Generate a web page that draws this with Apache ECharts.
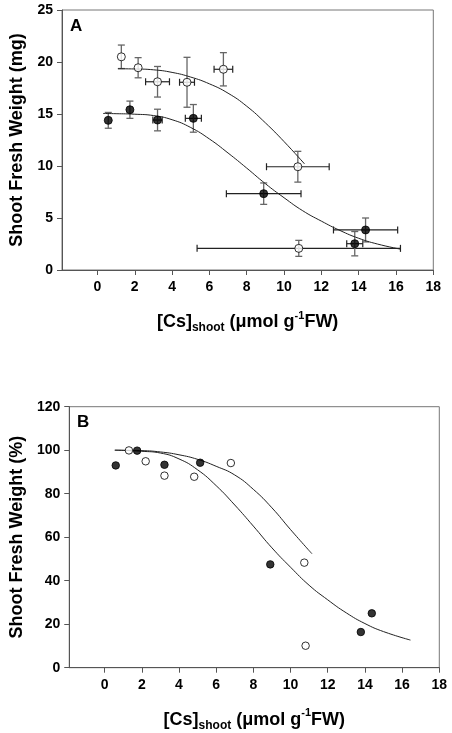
<!DOCTYPE html>
<html>
<head>
<meta charset="utf-8">
<script src="https://cdn.jsdelivr.net/npm/echarts@6/dist/echarts.min.js"></script>
<style>
html,body{margin:0;padding:0;background:#fff;}
#c{width:452px;height:733px;}
</style>
</head>
<body>
<div id="c"></div>
<script>
// ---------- Panel A data (absolute weight, mg) ----------
const openA_x    = [1.28, 2.18, 3.22, 4.80, 6.75, 10.74, 10.79];
const openA_y    = [20.5, 19.45, 18.1, 18.05, 19.3, 9.93, 2.08];
const openA_xErr = [0, 0, 0.64, 0.40, 0.50, 1.68, 5.45];
const openA_yErr = [1.13, 0.97, 1.47, 2.4, 1.6, 1.48, 0.77];

const filledA_x    = [0.58, 1.74, 3.22, 5.14, 8.91, 13.79, 14.37];
const filledA_y    = [14.39, 15.41, 14.42, 14.58, 7.34, 2.53, 3.85];
const filledA_xErr = [0, 0, 0.25, 0.43, 2.0, 0.43, 1.72];
const filledA_yErr = [0.76, 0.83, 1.04, 1.33, 1.03, 1.17, 1.15];

const fitOpenA_x = [1.1, 2, 3, 4, 5, 6, 7, 8, 9, 10, 11.1];
const fitOpenA_y = [19.35, 19.33, 19.25, 19.0, 18.55, 17.9, 17.0, 15.75, 14.15, 12.35, 10.2];
const fitFilledA_x = [0.3, 1, 2, 3, 4, 5, 6, 7, 8, 9, 10, 11, 12, 13, 14, 15, 16.25];
const fitFilledA_y = [15.05, 15.03, 14.98, 14.85, 14.45, 13.7, 12.6, 11.25, 9.8, 8.3, 6.95, 5.7, 4.7, 3.8, 3.05, 2.5, 2.0];

// ---------- Panel B data (% of control) ----------
const openB_x = [1.31, 2.21, 3.22, 4.82, 6.79, 10.74, 10.81];
const openB_y = [99.9, 94.9, 88.3, 87.8, 94.1, 48.3, 10.1];
const filledB_x = [0.60, 1.75, 3.22, 5.14, 8.91, 13.78, 14.37];
const filledB_y = [93.0, 99.8, 93.3, 94.25, 47.5, 16.4, 25.0];

const fitOpenB_x = [0.55, 2, 3, 4, 5, 6, 7, 8, 9, 10, 11.15];
const fitOpenB_y = [100, 99.8, 99.2, 97.9, 95.8, 92.6, 88.6, 82.0, 73.5, 63.5, 52.4];
const fitFilledB_x = [0.55, 1, 2, 3, 4, 5, 6, 7, 8, 9, 10, 11, 12, 13, 14, 15, 16.45];
const fitFilledB_y = [100, 99.9, 99.5, 98.7, 96.0, 91.0, 83.7, 74.8, 65.1, 55.1, 46.2, 37.9, 31.2, 25.2, 20.3, 16.6, 12.7];

// ---------- Axis ticks ----------
const xTicks = [0, 2, 4, 6, 8, 10, 12, 14, 16, 18];
const xMin = -1.9, xMax = 18;
const yTicksA = [0, 5, 10, 15, 20, 25];
const yTicksB = [0, 20, 40, 60, 80, 100, 120];

const FONT = '"Liberation Sans", Arial, sans-serif';
const zip2 = (a, b) => a.map((v, i) => [v, b[i]]);
const zip4 = (a, b, c, d) => a.map((v, i) => [v, b[i], c[i], d[i]]);

function errRender(params, api) {
  const x = api.value(0), y = api.value(1), xe = api.value(2), ye = api.value(3);
  const ch = [];
  const cap = 3.5;
  if (xe > 0) {
    const l = api.coord([x - xe, y]), r = api.coord([x + xe, y]);
    const st = {stroke: '#222', lineWidth: 1.2};
    ch.push({type: 'line', shape: {x1: l[0], y1: l[1], x2: r[0], y2: r[1]}, style: st});
    ch.push({type: 'line', shape: {x1: l[0], y1: l[1] - cap, x2: l[0], y2: l[1] + cap}, style: st});
    ch.push({type: 'line', shape: {x1: r[0], y1: r[1] - cap, x2: r[0], y2: r[1] + cap}, style: st});
  }
  if (ye > 0) {
    const t = api.coord([x, y + ye]), b = api.coord([x, y - ye]);
    const st = {stroke: '#666', lineWidth: 1.3};
    ch.push({type: 'line', shape: {x1: t[0], y1: t[1], x2: b[0], y2: b[1]}, style: st});
    ch.push({type: 'line', shape: {x1: t[0] - cap, y1: t[1], x2: t[0] + cap, y2: t[1]}, style: st});
    ch.push({type: 'line', shape: {x1: b[0] - cap, y1: b[1], x2: b[0] + cap, y2: b[1]}, style: st});
  }
  return {type: 'group', children: ch};
}

const xTitle = '{m|[Cs]}{s|shoot}{m| (μmol g}{p|-1}{m|FW)}';
const xTitleStyle = {
  rich: {
    m: {fontSize: 18, fontWeight: 'bold', fontFamily: FONT, color: '#000', lineHeight: 24},
    s: {fontSize: 12, fontWeight: 'bold', fontFamily: FONT, color: '#000', lineHeight: 12, verticalAlign: 'bottom'},
    p: {fontSize: 11, fontWeight: 'bold', fontFamily: FONT, color: '#000', lineHeight: 14, verticalAlign: 'top'}
  }
};

function mkX(gi) {
  return {
    type: 'value', gridIndex: gi, min: xMin, max: xMax,
    axisLine: {show: true, onZero: false, lineStyle: {color: '#555', width: 1}},
    axisTick: {show: true, length: 5, customValues: xTicks, lineStyle: {color: '#555'}},
    axisLabel: {customValues: xTicks, margin: 10, fontSize: 14, fontWeight: 'bold', color: '#000', fontFamily: FONT},
    splitLine: {show: false},
    name: xTitle, nameLocation: 'middle', nameGap: 40, nameTextStyle: xTitleStyle
  };
}
function mkY(gi, max, ticks, title) {
  return {
    type: 'value', gridIndex: gi, min: 0, max: max,
    axisLine: {show: true, onZero: false, lineStyle: {color: '#555', width: 1}},
    axisTick: {show: true, length: 5, customValues: ticks, lineStyle: {color: '#555'}},
    axisLabel: {customValues: ticks, margin: 9, fontSize: 14, fontWeight: 'bold', color: '#000', fontFamily: FONT},
    splitLine: {show: false},
    name: title, nameLocation: 'middle', nameGap: 36,
    nameTextStyle: {fontSize: 18, fontWeight: 'bold', fontFamily: FONT, color: '#000'}
  };
}

const openSym = {color: '#fff', borderColor: '#000', borderWidth: 1};
const fillSym = {color: '#000', borderColor: '#000', borderWidth: 1};
const fitLine = {color: '#222', width: 1};

const option = {
  animation: false,
  backgroundColor: '#fff',
  grid: [
    {left: 59.3, top: 10, width: 374, height: 260, show: true, borderColor: '#777', borderWidth: 1, backgroundColor: 'transparent'},
    {left: 65, top: 406.7, width: 374.3, height: 261, show: true, borderColor: '#777', borderWidth: 1, backgroundColor: 'transparent'}
  ],
  xAxis: [mkX(0), mkX(1)],
  yAxis: [mkY(0, 25, yTicksA, 'Shoot Fresh Weight (mg)'), mkY(1, 120, yTicksB, 'Shoot Fresh Weight (%)')],
  graphic: [
    {type: 'text', x: 70, y: 26, style: {text: 'A', font: 'bold 17px ' + FONT, fill: '#000', verticalAlign: 'middle'}},
    {type: 'text', x: 77, y: 422.5, style: {text: 'B', font: 'bold 17px ' + FONT, fill: '#000', verticalAlign: 'middle'}}
  ],
  series: [
    // Panel A error bars
    {type: 'custom', xAxisIndex: 0, yAxisIndex: 0, renderItem: errRender, encode: {x: 0, y: 1}, data: zip4(openA_x, openA_y, openA_xErr, openA_yErr), z: 2},
    {type: 'custom', xAxisIndex: 0, yAxisIndex: 0, renderItem: errRender, encode: {x: 0, y: 1}, data: zip4(filledA_x, filledA_y, filledA_xErr, filledA_yErr), z: 2},
    // Panel A fits
    {type: 'line', xAxisIndex: 0, yAxisIndex: 0, data: zip2(fitOpenA_x, fitOpenA_y), showSymbol: false, smooth: 0.5, lineStyle: fitLine, z: 3},
    {type: 'line', xAxisIndex: 0, yAxisIndex: 0, data: zip2(fitFilledA_x, fitFilledA_y), showSymbol: false, smooth: 0.5, lineStyle: fitLine, z: 3},
    // Panel A points
    {type: 'scatter', xAxisIndex: 0, yAxisIndex: 0, data: zip2(openA_x, openA_y), symbolSize: 8, itemStyle: openSym, z: 5},
    {type: 'scatter', xAxisIndex: 0, yAxisIndex: 0, data: zip2(filledA_x, filledA_y), symbolSize: 8, itemStyle: fillSym, z: 5},
    // Panel B fits
    {type: 'line', xAxisIndex: 1, yAxisIndex: 1, data: zip2(fitOpenB_x, fitOpenB_y), showSymbol: false, smooth: 0.5, lineStyle: fitLine, z: 3},
    {type: 'line', xAxisIndex: 1, yAxisIndex: 1, data: zip2(fitFilledB_x, fitFilledB_y), showSymbol: false, smooth: 0.5, lineStyle: fitLine, z: 3},
    // Panel B points
    {type: 'scatter', xAxisIndex: 1, yAxisIndex: 1, data: zip2(openB_x, openB_y), symbolSize: 7.5, itemStyle: openSym, z: 5},
    {type: 'scatter', xAxisIndex: 1, yAxisIndex: 1, data: zip2(filledB_x, filledB_y), symbolSize: 7.5, itemStyle: fillSym, z: 5}
  ]
};

const chart = echarts.init(document.getElementById('c'), null, {renderer: 'canvas'});
chart.setOption(option);
</script>
</body>
</html>
